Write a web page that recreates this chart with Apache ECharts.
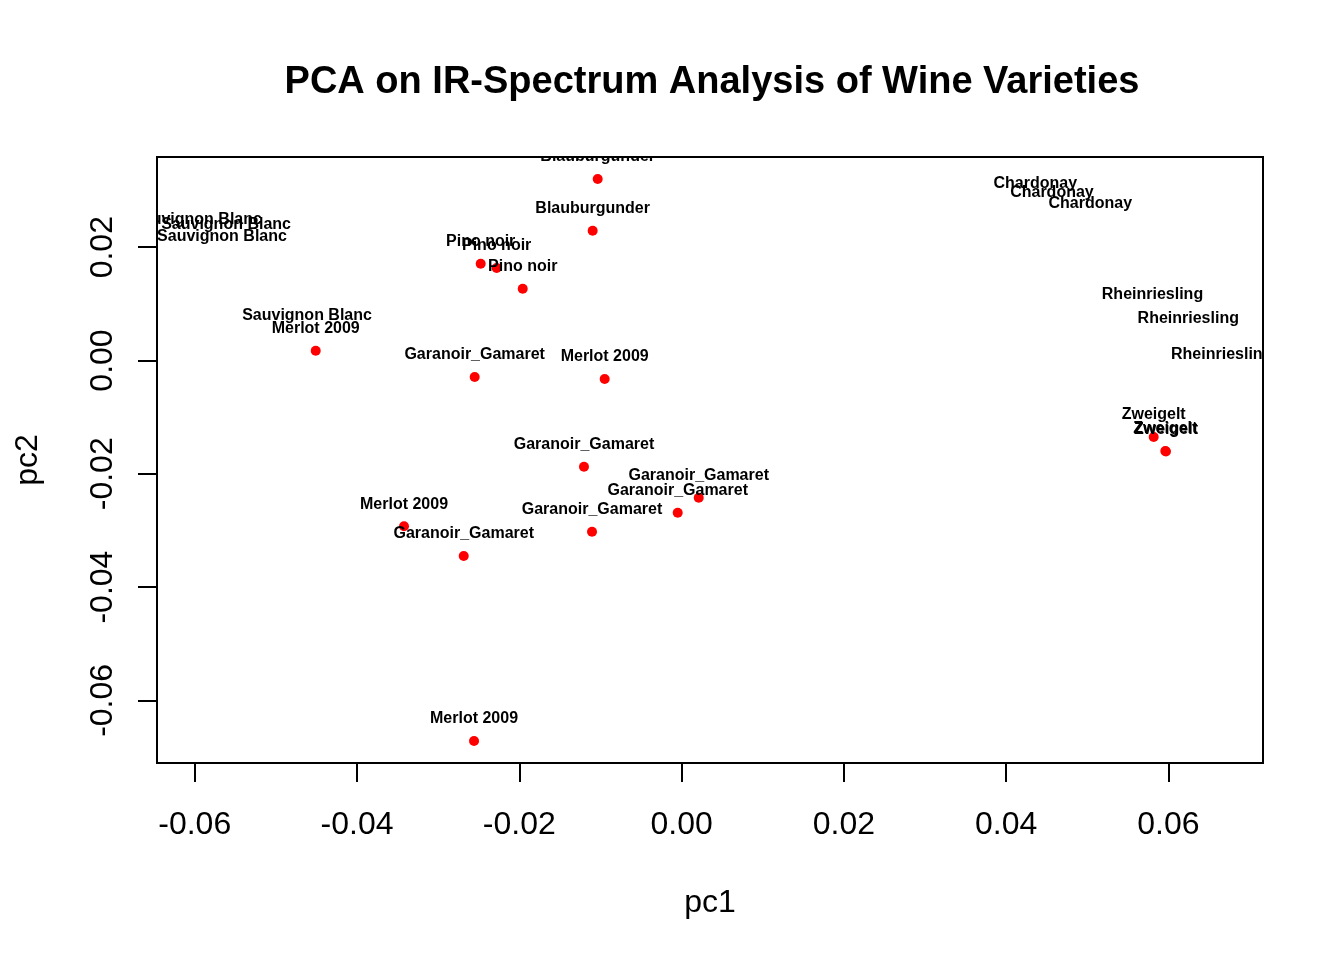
<!DOCTYPE html>
<html>
<head>
<meta charset="utf-8">
<script src="https://cdn.jsdelivr.net/npm/echarts@6/dist/echarts.min.js"></script>
<style>
html,body{margin:0;padding:0;background:#fff;}
#chart{width:1344px;height:960px;}
</style>
</head>
<body>
<div id="chart"></div>
<script>
// Sample varieties
const variety = [
  "Blauburgunder","Blauburgunder",
  "Pino noir","Pino noir","Pino noir",
  "Sauvignon Blanc","Sauvignon Blanc","Sauvignon Blanc","Sauvignon Blanc",
  "Merlot 2009","Merlot 2009","Merlot 2009","Merlot 2009",
  "Garanoir_Gamaret","Garanoir_Gamaret","Garanoir_Gamaret","Garanoir_Gamaret","Garanoir_Gamaret","Garanoir_Gamaret",
  "Chardonay","Chardonay","Chardonay",
  "Rheinriesling","Rheinriesling","Rheinriesling",
  "Zweigelt","Zweigelt","Zweigelt"
];
// first principal component
const pc1 = [
  -0.01034,-0.01096,
  -0.02476,-0.02279,-0.01958,
  -0.05972,-0.05614,-0.05664,-0.04616,
  -0.04509,-0.00948,-0.03421,-0.02558,
  -0.02550,-0.01203,0.00211,-0.00048,-0.01104,-0.02685,
  0.04359,0.04564,0.05036,
  0.05803,0.06244,0.06656,
  0.05818,0.05961,0.05969
];
// second principal component
const pc2 = [
  0.03204,0.02291,
  0.01709,0.01633,0.01267,
  0.02092,0.02016,0.01792,0.00410,
  0.00173,-0.00327,-0.02927,-0.06717,
  -0.00291,-0.01875,-0.02422,-0.02687,-0.03022,-0.03451,
  0.02740,0.02574,0.02379,
  0.00768,0.00350,-0.00279,
  -0.01350,-0.01598,-0.01606
];
// wine type of each variety (red wines are plotted red, white wines white)
const whiteVarieties = ["Sauvignon Blanc","Chardonay","Rheinriesling"];
const xTicks = [-0.06,-0.04,-0.02,0.00,0.02,0.04,0.06];
const yTicks = [-0.06,-0.04,-0.02,0.00,0.02];

const FONT = "'Liberation Sans', Arial, Helvetica, sans-serif";
const points = pc1.map((x,i)=>({
  value:[x,pc2[i],variety[i]],
  itemStyle:{color: whiteVarieties.includes(variety[i]) ? '#ffffff' : '#ff0000', opacity:1}
}));

const chart = echarts.init(document.getElementById('chart'));
chart.setOption({
  animation:false,
  backgroundColor:'#ffffff',
  title:{
    text:'PCA on IR-Spectrum Analysis of Wine Varieties',
    left:707, top:59, textAlign:'center',
    textStyle:{fontFamily:FONT,fontWeight:'bold',fontSize:38,color:'#000',lineHeight:38}
  },
  grid:{left:157,right:81,top:157,bottom:197,show:true,borderColor:'#000',borderWidth:2,backgroundColor:'transparent'},
  xAxis:{
    type:'value', min:-0.06465, max:0.07165,
    name:'pc1', nameLocation:'middle', nameGap:124,
    nameTextStyle:{fontFamily:FONT,fontSize:32,color:'#000'},
    axisLine:{show:false,onZero:false},
    splitLine:{show:false},
    axisTick:{show:true,inside:false,length:19,lineStyle:{color:'#000',width:2},customValues:xTicks},
    axisLabel:{show:true,margin:46,fontFamily:FONT,fontSize:32,color:'#000',customValues:xTicks,
      formatter:v=>v.toFixed(2)}
  },
  yAxis:{
    type:'value', min:-0.07105, max:0.03592,
    name:'pc2', nameLocation:'middle', nameGap:113,
    nameTextStyle:{fontFamily:FONT,fontSize:32,color:'#000'},
    axisLine:{show:false,onZero:false},
    splitLine:{show:false},
    axisTick:{show:true,inside:false,length:19,lineStyle:{color:'#000',width:2},customValues:yTicks},
    axisLabel:{show:true,rotate:90,margin:38,fontFamily:FONT,fontSize:32,color:'#000',customValues:yTicks,
      formatter:v=>v.toFixed(2)}
  },
  series:[
    {
      type:'scatter', symbol:'circle', symbolSize:10, z:2,
      data:points
    },
    {
      type:'custom', clip:true, z:3,
      data:pc1.map((x,i)=>[x,pc2[i],variety[i]]),
      renderItem:function(params,api){
        const p = api.coord([api.value(0),api.value(1)]);
        return {
          type:'text',
          x:p[0], y:p[1]-22,
          style:{text:api.value(2),textAlign:'center',textVerticalAlign:'middle',
            font:"bold 16px "+FONT, fill:'#000'}
        };
      }
    }
  ]
});
</script>
</body>
</html>
